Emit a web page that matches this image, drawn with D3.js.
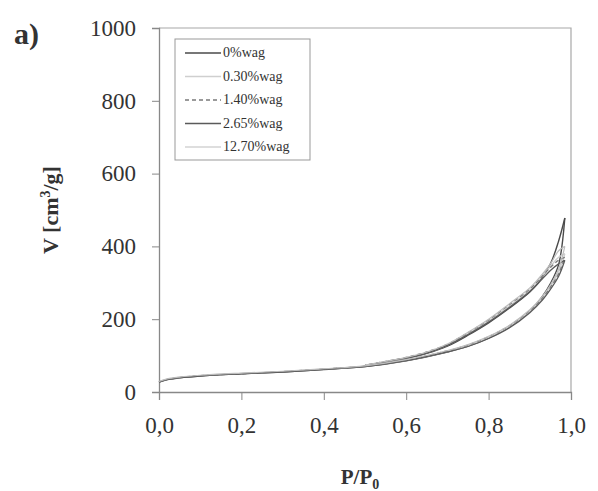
<!DOCTYPE html>
<html>
<head>
<meta charset="utf-8">
<script src="https://cdn.jsdelivr.net/npm/d3@7"></script>
<style>
  body { margin: 0; background: #fff; }
  svg text { font-family: "Liberation Serif", "Times New Roman", Times, "DejaVu Serif", serif; fill: #333; }
</style>
</head>
<body>
<div id="chart"></div>
<script>
// series names, in legend order
const seriesNames = ["0%wag", "0.30%wag", "1.40%wag", "2.65%wag", "12.70%wag"];

// relative pressure, adsorption branch and desorption branch
const pAds = [0, 0.02, 0.05, 0.1, 0.2, 0.3, 0.4, 0.5, 0.6, 0.7, 0.75, 0.8, 0.85, 0.9, 0.93, 0.95, 0.97, 0.985];
const pDes = [0.985, 0.97, 0.95, 0.92, 0.9, 0.85, 0.8, 0.75, 0.7, 0.65, 0.6, 0.55, 0.5];

// adsorbed volume [cm3/g]
const vAds0    = [27, 34, 39, 44, 50, 55, 62, 70, 86, 110, 126, 148, 178, 222, 262, 298, 350, 478];
const vDes0    = [478, 415, 352, 300, 275, 230, 190, 156, 126, 106, 92, 82, 72];
const vAds030  = [28, 35, 40, 45, 51, 56, 63, 71, 87, 111, 127, 150, 180, 222, 258, 290, 330, 380];
const vDes030  = [380, 370, 345, 305, 280, 236, 195, 160, 129, 108, 94, 83, 73];
const vAds140  = [28, 35, 40, 45, 50, 56, 63, 71, 88, 113, 129, 152, 182, 224, 258, 288, 325, 370];
const vDes140  = [370, 362, 342, 306, 283, 240, 198, 163, 131, 110, 95, 84, 74];
const vAds265  = [27, 34, 39, 44, 50, 55, 62, 70, 86, 110, 125, 147, 176, 218, 252, 282, 318, 362];
const vDes265  = [362, 352, 334, 298, 276, 232, 192, 158, 128, 107, 93, 83, 72];
const vAds1270 = [29, 36, 41, 46, 52, 57, 64, 72, 89, 114, 130, 153, 183, 226, 262, 294, 338, 400];
const vDes1270 = [400, 388, 352, 310, 286, 242, 200, 164, 132, 110, 95, 84, 74];

// y tick labels and x tick labels
const yTicks = [0, 200, 400, 600, 800, 1000];
const xTicks = [0, 0.2, 0.4, 0.6, 0.8, 1.0];

const adsSets = [vAds0, vAds030, vAds140, vAds265, vAds1270];
const desSets = [vDes0, vDes030, vDes140, vDes265, vDes1270];
const styles = [
  { color: "#4a4a4a", dash: null, w: 1.4 },
  { color: "#cfcfcf", dash: null, w: 1.4 },
  { color: "#7a7a7a", dash: "4,3", w: 1.3 },
  { color: "#5a5a5a", dash: null, w: 1.3 },
  { color: "#bdbdbd", dash: null, w: 1.2 }
];

const width = 598, height = 491;
const margin = { left: 159, right: 27, top: 28, bottom: 99 };

const svg = d3.select("#chart").append("svg")
  .attr("width", width)
  .attr("height", height);

const x = d3.scaleLinear().domain([0, 1]).range([margin.left, width - margin.right]);
const y = d3.scaleLinear().domain([0, 1000]).range([height - margin.bottom, margin.top]);

// frame (top and right)
svg.append("path")
  .attr("d", `M${x(0)},${y(1000)}H${x(1)}V${y(0)}`)
  .attr("fill", "none")
  .attr("stroke", "#a8a8a8")
  .attr("stroke-width", 1.2);

// y axis
const yAxis = svg.append("g")
  .attr("transform", `translate(${x(0)},0)`)
  .call(d3.axisLeft(y).tickValues(yTicks).tickSize(7).tickPadding(16).tickFormat(d3.format("d")));
yAxis.attr("font-family", null);
yAxis.select(".domain").attr("stroke", "#888").attr("stroke-width", 1.3);
yAxis.selectAll(".tick line").attr("stroke", "#888");
yAxis.selectAll("text").style("font-size", "23px").attr("fill", "#3a3a3a");

// x axis
const xAxis = svg.append("g")
  .attr("transform", `translate(0,${y(0)})`)
  .call(d3.axisBottom(x).tickValues(xTicks).tickSize(8).tickPadding(17)
    .tickFormat(d => d3.format(".1f")(d).replace(".", ",")));
xAxis.attr("font-family", null);
xAxis.select(".domain").attr("stroke", "#888").attr("stroke-width", 1.3);
xAxis.selectAll(".tick line").attr("stroke", "#888");
xAxis.selectAll("text").style("font-size", "23px").attr("fill", "#3a3a3a");

// curves: adsorption then desorption branch
const line = d3.line()
  .x(d => x(d[0]))
  .y(d => y(d[1]))
  .curve(d3.curveCatmullRom);

seriesNames.forEach((name, i) => {
  const ads = pAds.map((p, j) => [p, adsSets[i][j]]);
  const des = pDes.map((p, j) => [p, desSets[i][j]]);
  [ads, des].forEach(branch => {
    svg.append("path")
      .datum(branch)
      .attr("d", line)
      .attr("fill", "none")
      .attr("stroke", styles[i].color)
      .attr("stroke-width", styles[i].w)
      .attr("stroke-dasharray", styles[i].dash);
  });
});

// legend
const legend = svg.append("g");
legend.append("rect")
  .attr("x", 175).attr("y", 39)
  .attr("width", 135).attr("height", 121)
  .attr("fill", "#fff")
  .attr("stroke", "#999")
  .attr("stroke-width", 1);

seriesNames.forEach((name, i) => {
  const ly = 53 + i * 23.5;
  legend.append("line")
    .attr("x1", 185).attr("x2", 221)
    .attr("y1", ly).attr("y2", ly)
    .attr("stroke", styles[i].color)
    .attr("stroke-width", styles[i].w)
    .attr("stroke-dasharray", styles[i].dash);
  legend.append("text")
    .attr("x", 223).attr("y", ly + 4)
    .style("font-size", "14px")
    .attr("fill", "#666")
    .text(name);
});

// axis titles
svg.append("text")
  .attr("transform", `translate(58,${y(500)}) rotate(-90)`)
  .attr("text-anchor", "middle")
  .style("font-size", "22px")
  .style("font-weight", "bold")
  .html('V [cm<tspan dy="-8" font-size="14">3</tspan><tspan dy="8">/g]</tspan>');

svg.append("text")
  .attr("x", 360).attr("y", 484)
  .attr("text-anchor", "middle")
  .style("font-size", "21px")
  .style("font-weight", "bold")
  .html('P/P<tspan dy="5" font-size="14">0</tspan>');

// panel label
svg.append("text")
  .attr("x", 14).attr("y", 44)
  .style("font-size", "30px")
  .style("font-weight", "bold")
  .text("a)");
</script>
</body>
</html>
